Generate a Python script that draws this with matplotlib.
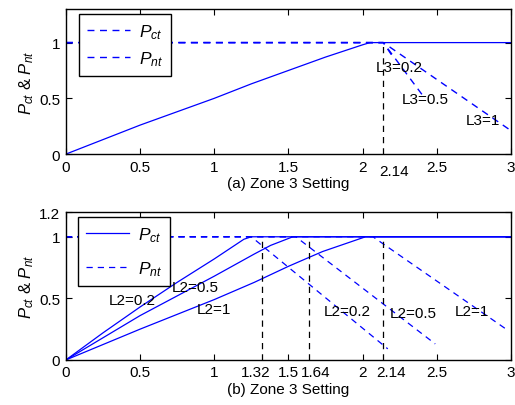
import matplotlib
matplotlib.use("Agg")
import matplotlib.pyplot as plt

plt.rcParams['font.family'] = ['Liberation Sans', 'DejaVu Sans']
plt.rcParams['mathtext.fontset'] = 'custom'
plt.rcParams['mathtext.it'] = 'Liberation Sans:italic'
plt.rcParams['mathtext.rm'] = 'Liberation Sans'

BLUE = '#0000ff'
FS = 11

# (a) Pct rises to 1 and then stays there; Pnt drops for each L3
pct_a_x = [0, 0.25, 0.5, 0.75, 1.0, 1.25, 1.5, 1.75, 2.0, 2.05, 3.0]
pct_a_y = [0, 0.13, 0.26, 0.38, 0.50, 0.63, 0.75, 0.87, 0.98, 1.0, 1.0]
l3_names = ['L3=0.2', 'L3=0.5', 'L3=1']
pnt_a_x = [[0, 2.14, 2.20], [0, 2.14, 2.42], [0, 2.14, 2.99]]
pnt_a_y = [[1, 1, 0.88], [1, 1, 0.50], [1, 1, 0.22]]
l3_label_pos = [(2.25, 0.78), (2.42, 0.49), (2.81, 0.31)]
mark_a = [2.14]

# (b) one Pct/Pnt pair for each L2
l2_names = ['L2=0.2', 'L2=0.5', 'L2=1']
pct_b_x = [[0, 0.25, 0.5, 0.75, 1.0, 1.1, 1.2, 1.25, 3.0],
           [0, 0.25, 0.5, 0.75, 1.0, 1.27, 1.38, 1.53, 3.0],
           [0, 0.5, 1.0, 1.27, 1.5, 1.73, 2.02, 3.0]]
pct_b_y = [[0, 0.22, 0.43, 0.63, 0.82, 0.90, 0.98, 1.0, 1.0],
           [0, 0.18, 0.36, 0.52, 0.68, 0.86, 0.93, 1.0, 1.0],
           [0, 0.25, 0.49, 0.63, 0.76, 0.88, 1.0, 1.0]]
pnt_b_x = [[0, 1.25, 2.17], [0, 1.55, 2.49], [0, 2.07, 2.98]]
pnt_b_y = [[1, 1, 0.09], [1, 1, 0.13], [1, 1, 0.24]]
l2_left_pos = [(0.45, 0.49), (0.87, 0.59), (1.0, 0.41)]
l2_right_pos = [(1.90, 0.40), (2.34, 0.38), (2.74, 0.40)]
mark_b = [1.32, 1.64, 2.14]
# where the value labels under the marker lines sit (x, alignment)
mark_b_text = [(1.28, 'center'), (1.585, 'left'), (2.09, 'left')]
mark_a_text = [(2.11, 'left')]

xticks = [0, 0.5, 1, 1.5, 2, 2.5, 3]


def style_axes(ax, ylim, yticks):
    ax.set_xlim(0, 3)
    ax.set_ylim(*ylim)
    ax.set_xticks(xticks)
    ax.set_xticklabels([f'{t:g}' for t in xticks])
    ax.set_yticks(yticks)
    ax.set_yticklabels([f'{t:g}' for t in yticks])
    ax.tick_params(direction='in', top=True, right=True, labelsize=FS,
                   length=4, width=0.8, pad=4)
    for sp in ax.spines.values():
        sp.set_linewidth(1.0)
    ax.set_ylabel('$P_{ct}$ & $P_{nt}$', fontsize=12, labelpad=2)


def add_legend(ax, handles, anchor, spacing):
    leg = ax.legend(handles, ['$P_{ct}$', '$P_{nt}$'], loc='upper left',
                    bbox_to_anchor=anchor, borderaxespad=0,
                    fontsize=12.5, fancybox=False, edgecolor='k', framealpha=1,
                    handlelength=2.5, handletextpad=0.5, labelspacing=spacing,
                    borderpad=0.45)
    leg.get_frame().set_linewidth(1.0)


fig = plt.figure(figsize=(5.15, 4.06), dpi=100)
ax1 = fig.add_axes([0.128, 0.618, 0.864, 0.357])
ax2 = fig.add_axes([0.128, 0.111, 0.864, 0.364])

# ---- (a) ----
for x, y in zip(pnt_a_x, pnt_a_y):
    ax1.plot(x, y, '--', color=BLUE, lw=1.0, dashes=(5, 4))
ax1.plot(pct_a_x, pct_a_y, '-', color=BLUE, lw=0.9)
for m, (tx, ha) in zip(mark_a, mark_a_text):
    ax1.plot([m, m], [0, 1], '--', color='k', lw=0.9, dashes=(5, 4))
    ax1.text(tx, -0.085, f'{m:g}', ha=ha, va='top', fontsize=FS)
for name, (tx, ty) in zip(l3_names, l3_label_pos):
    ax1.text(tx, ty, name, ha='center', va='center', fontsize=FS)
style_axes(ax1, (0, 1.3), [0, 0.5, 1])
ax1.set_xlabel('(a) Zone 3 Setting', fontsize=FS, labelpad=2)
add_legend(ax1, [plt.Line2D([], [], color=BLUE, ls='--', lw=1.0, dashes=(5, 4)),
                 plt.Line2D([], [], color=BLUE, ls='--', lw=1.0, dashes=(5, 4))],
           (0.029, 0.966), 0.5)

# ---- (b) ----
for x, y in zip(pnt_b_x, pnt_b_y):
    ax2.plot(x, y, '--', color=BLUE, lw=0.9, dashes=(5, 4))
for x, y in zip(pct_b_x, pct_b_y):
    ax2.plot(x, y, '-', color=BLUE, lw=0.9)
for m, (tx, ha) in zip(mark_b, mark_b_text):
    ax2.plot([m, m], [0, 1], '--', color='k', lw=0.9, dashes=(5, 4))
    ax2.text(tx, -0.04, f'{m:g}', ha=ha, va='top', fontsize=FS)
for name, (tx, ty) in zip(l2_names, l2_left_pos):
    ax2.text(tx, ty, name, ha='center', va='center', fontsize=FS)
for name, (tx, ty) in zip(l2_names, l2_right_pos):
    ax2.text(tx, ty, name, ha='center', va='center', fontsize=FS)
style_axes(ax2, (0, 1.2), [0, 0.5, 1, 1.2])
ax2.set_xlabel('(b) Zone 3 Setting', fontsize=FS, labelpad=2)
add_legend(ax2, [plt.Line2D([], [], color=BLUE, ls='-', lw=0.9),
                 plt.Line2D([], [], color=BLUE, ls='--', lw=0.9, dashes=(5, 4))],
           (0.027, 0.966), 0.9)

fig.savefig('out.png', dpi=100)
